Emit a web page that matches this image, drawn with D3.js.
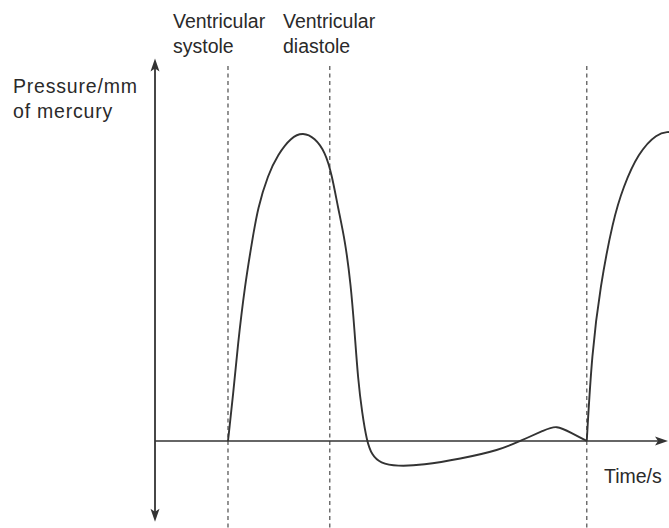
<!DOCTYPE html>
<html>
<head>
<meta charset="utf-8">
<script src="https://cdn.jsdelivr.net/npm/d3@7"></script>
<style>
  html, body { margin: 0; padding: 0; background: #fff; }
  svg { display: block; }
  text { font-family: "Liberation Sans", Arial, sans-serif; fill: #2a2a2a; }
</style>
</head>
<body>
<svg id="chart" width="669" height="528"></svg>
<script>
// ---- data (time in s, pressure in mm Hg) ----
const time = [0.142, 0.152, 0.161, 0.175, 0.189, 0.200, 0.220, 0.239, 0.265, 0.288, 0.311, 0.331,
              0.344, 0.356, 0.370, 0.381, 0.388, 0.395, 0.403, 0.412, 0.422, 0.438, 0.471, 0.521,
              0.593, 0.671, 0.710, 0.759, 0.780, 0.811, 0.840,
              0.850, 0.866, 0.891, 0.911, 0.940, 0.977, 1.000];
const pressure = [0, 17.9, 37.4, 60.8, 77.9, 90.9, 103.8, 111.6, 118.4, 120.3, 118.1, 112.6,
                  103.8, 90.9, 77.9, 60.8, 43.6, 23.8, 10.9, 0, -5.5, -8.6, -9.9, -9.4,
                  -7.0, -3.5, 0, 4.3, 6.2, 3.1, 0,
                  34.3, 60.0, 86.1, 99.0, 112.2, 120.0, 120.4];
const cycleBreak = 30;                  // index where the second systole begins (cusp)
const phaseTimes = [0.142, 0.340, 0.840];   // dashed markers
const phaseLabels = [["Ventricular", "systole"], ["Ventricular", "diastole"]];
const yLabel = ["Pressure/mm", "of mercury"];
const xLabel = "Time/s";
const xExtent = [0, 1.0];
const yExtent = [-31.5, 149];

// ---- scales ----
const x = d3.scaleLinear().domain([0, 1]).range([155, 669]);
const y = d3.scaleLinear().domain([0, 120]).range([441, 133]);

const svg = d3.select("#chart");
const ink = "#333";

// dashed phase markers
svg.selectAll("line.phase").data(phaseTimes).join("line")
  .attr("class", "phase")
  .attr("x1", d => x(d)).attr("x2", d => x(d))
  .attr("y1", 66).attr("y2", 528)
  .attr("stroke", "#666").attr("stroke-width", 1.4)
  .attr("stroke-dasharray", "4,3.5");

// axes
svg.append("line")
  .attr("x1", x(0)).attr("x2", x(0))
  .attr("y1", y(yExtent[1]) + 8).attr("y2", y(yExtent[0]) - 8)
  .attr("stroke", ink).attr("stroke-width", 1.8);
svg.append("line")
  .attr("x1", x(0)).attr("x2", x(xExtent[1]) - 8)
  .attr("y1", y(0)).attr("y2", y(0))
  .attr("stroke", ink).attr("stroke-width", 1.6);

// arrowheads
const ax = x(0), yTop = y(yExtent[1]), yBot = y(yExtent[0]), xRight = x(xExtent[1]) - 1, y0 = y(0);
svg.append("path").attr("d", `M${ax},${yTop} L${ax-4.5},${yTop+13} L${ax},${yTop+10} L${ax+4.5},${yTop+13} Z`).attr("fill", ink);
svg.append("path").attr("d", `M${ax},${yBot} L${ax-4.5},${yBot-13} L${ax},${yBot-10} L${ax+4.5},${yBot-13} Z`).attr("fill", ink);
svg.append("path").attr("d", `M${xRight},${y0} L${xRight-13},${y0-4.5} L${xRight-10},${y0} L${xRight-13},${y0+4.5} Z`).attr("fill", ink);

// pressure curve (two segments joined at cusp)
const pts = time.map((t, i) => [t, pressure[i]]);
const line = d3.line().x(d => x(d[0])).y(d => y(d[1])).curve(d3.curveBasis);
[pts.slice(0, cycleBreak + 1), pts.slice(cycleBreak)].forEach(seg => {
  svg.append("path").attr("d", line(seg))
    .attr("fill", "none").attr("stroke", ink).attr("stroke-width", 1.9)
    .attr("stroke-linejoin", "round");
});

// labels
const fs = 19.5;
phaseLabels.forEach((lab, i) => {
  const tx = i === 0 ? 173 : 283;
  svg.append("text").attr("x", tx).attr("y", 28).attr("font-size", fs).text(lab[0]);
  svg.append("text").attr("x", tx).attr("y", 53).attr("font-size", fs).text(lab[1]);
});
svg.append("text").attr("x", 13).attr("y", 93).attr("font-size", fs).attr("letter-spacing", 0.8).text(yLabel[0]);
svg.append("text").attr("x", 13).attr("y", 118).attr("font-size", fs).attr("letter-spacing", 0.8).text(yLabel[1]);
svg.append("text").attr("x", 604).attr("y", 483).attr("font-size", fs).text(xLabel);
</script>
</body>
</html>
